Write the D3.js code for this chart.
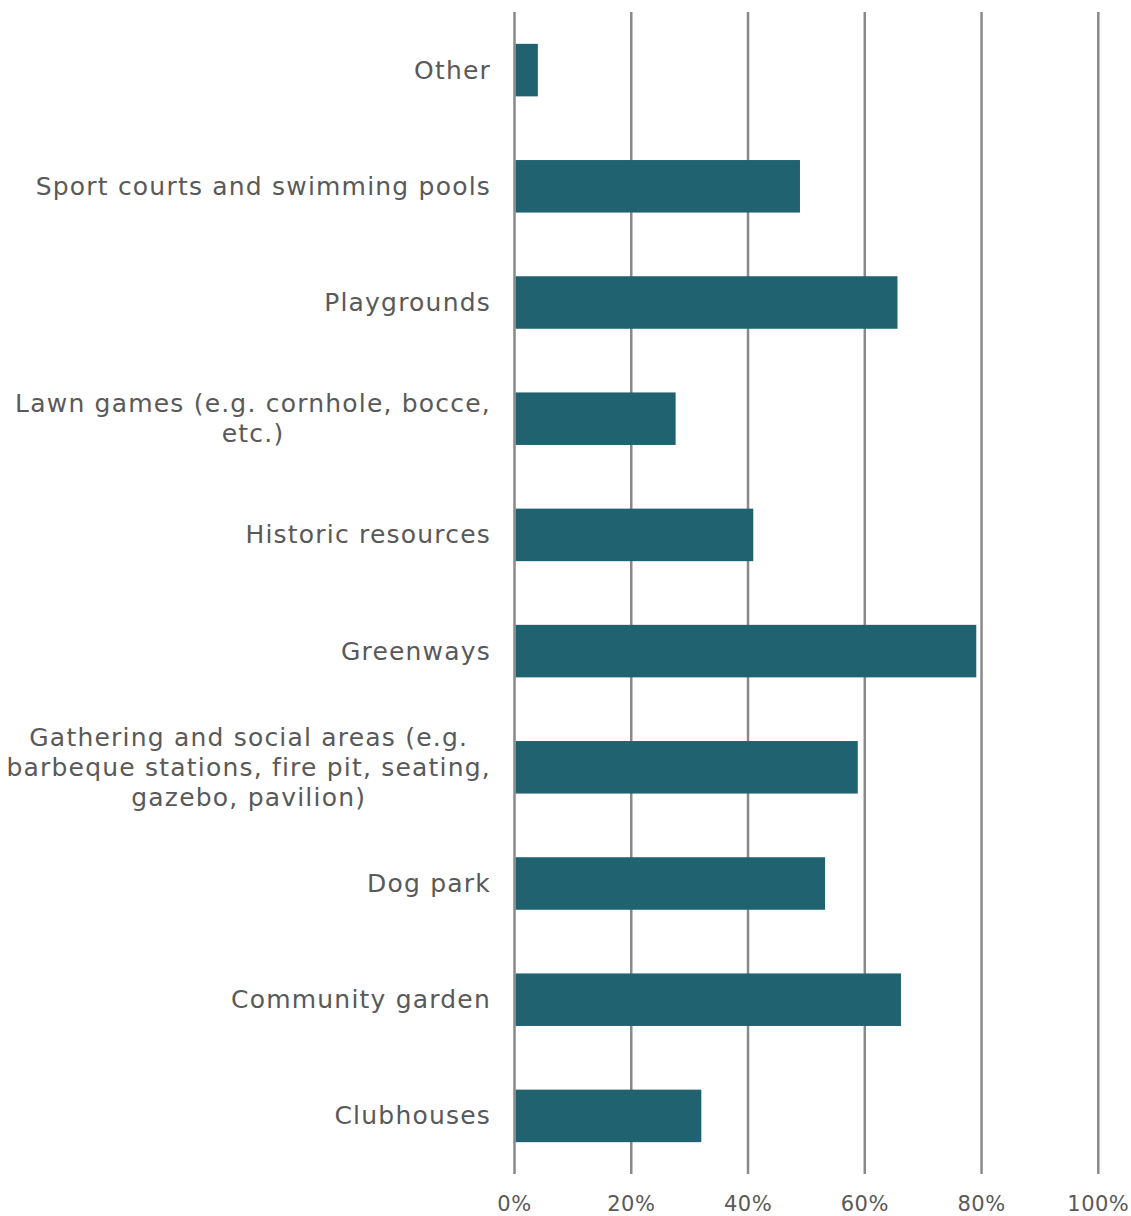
<!DOCTYPE html>
<html>
<head>
<meta charset="utf-8">
<script src="https://d3js.org/d3.v7.min.js"></script>
<style>
  body { margin: 0; background: #fff; }
  text { font-family: "DejaVu Sans", sans-serif; fill: #595959; }
</style>
</head>
<body>
<svg width="1131" height="1216"></svg>
<script>
// categories, top to bottom (label lines split where the original wraps)
var categories = [
  ["Other"],
  ["Sport courts and swimming pools"],
  ["Playgrounds"],
  ["Lawn games (e.g. cornhole, bocce,", "etc.)"],
  ["Historic resources"],
  ["Greenways"],
  ["Gathering and social areas (e.g.", "barbeque stations, fire pit, seating,", "gazebo, pavilion)"],
  ["Dog park"],
  ["Community garden"],
  ["Clubhouses"]
];
var values = [4.0, 48.9, 65.6, 27.6, 40.9, 79.1, 58.8, 53.2, 66.2, 32.0];
var ticks = [0, 20, 40, 60, 80, 100];

var svg = d3.select("svg"),
  width = +svg.attr("width"),
  height = +svg.attr("height");

var x = d3.scaleLinear().domain([0, 100]).range([514.5, 1098.3]);
var y = d3.scaleBand()
  .domain(d3.range(categories.length))
  .range([12, 1174])
  .paddingInner(0.548)
  .paddingOuter(0.274);

// gridlines
svg.append("g").selectAll("line")
  .data(ticks)
  .enter().append("line")
  .attr("x1", function(d) { return x(d); })
  .attr("x2", function(d) { return x(d); })
  .attr("y1", 12)
  .attr("y2", 1174)
  .attr("stroke", "#898989")
  .attr("stroke-width", 2.5);

// bars
svg.append("g").selectAll("rect")
  .data(values)
  .enter().append("rect")
  .attr("x", x(0) + 1.2)
  .attr("y", function(d, i) { return y(i); })
  .attr("width", function(d) { return x(d) - x(0) - 1.2; })
  .attr("height", y.bandwidth())
  .attr("fill", "#216270");

// tick labels
svg.append("g").selectAll("text")
  .data(ticks)
  .enter().append("text")
  .attr("x", function(d) { return x(d); })
  .attr("y", 1211)
  .attr("text-anchor", "middle")
  .style("font-size", "21px")
  .style("letter-spacing", "0.5px")
  .text(function(d) { return d + "%"; });

// category labels: block right-aligned at 490, lines centred in block
var lineH = 30;
categories.forEach(function(lines, i) {
  var g = svg.append("g");
  var cy = y(i) + y.bandwidth() / 2;
  var t = g.selectAll("text")
    .data(lines)
    .enter().append("text")
    .attr("y", function(d, j) { return cy + (j - (lines.length - 1) / 2) * lineH + 8.5; })
    .attr("text-anchor", "middle")
    .style("font-size", "25px")
    .style("letter-spacing", "1.2px")
    .text(function(d) { return d; });
  var maxW = d3.max(t.nodes(), function(n) { return n.getComputedTextLength(); });
  t.attr("x", 491 - maxW / 2);
});
</script>
</body>
</html>
